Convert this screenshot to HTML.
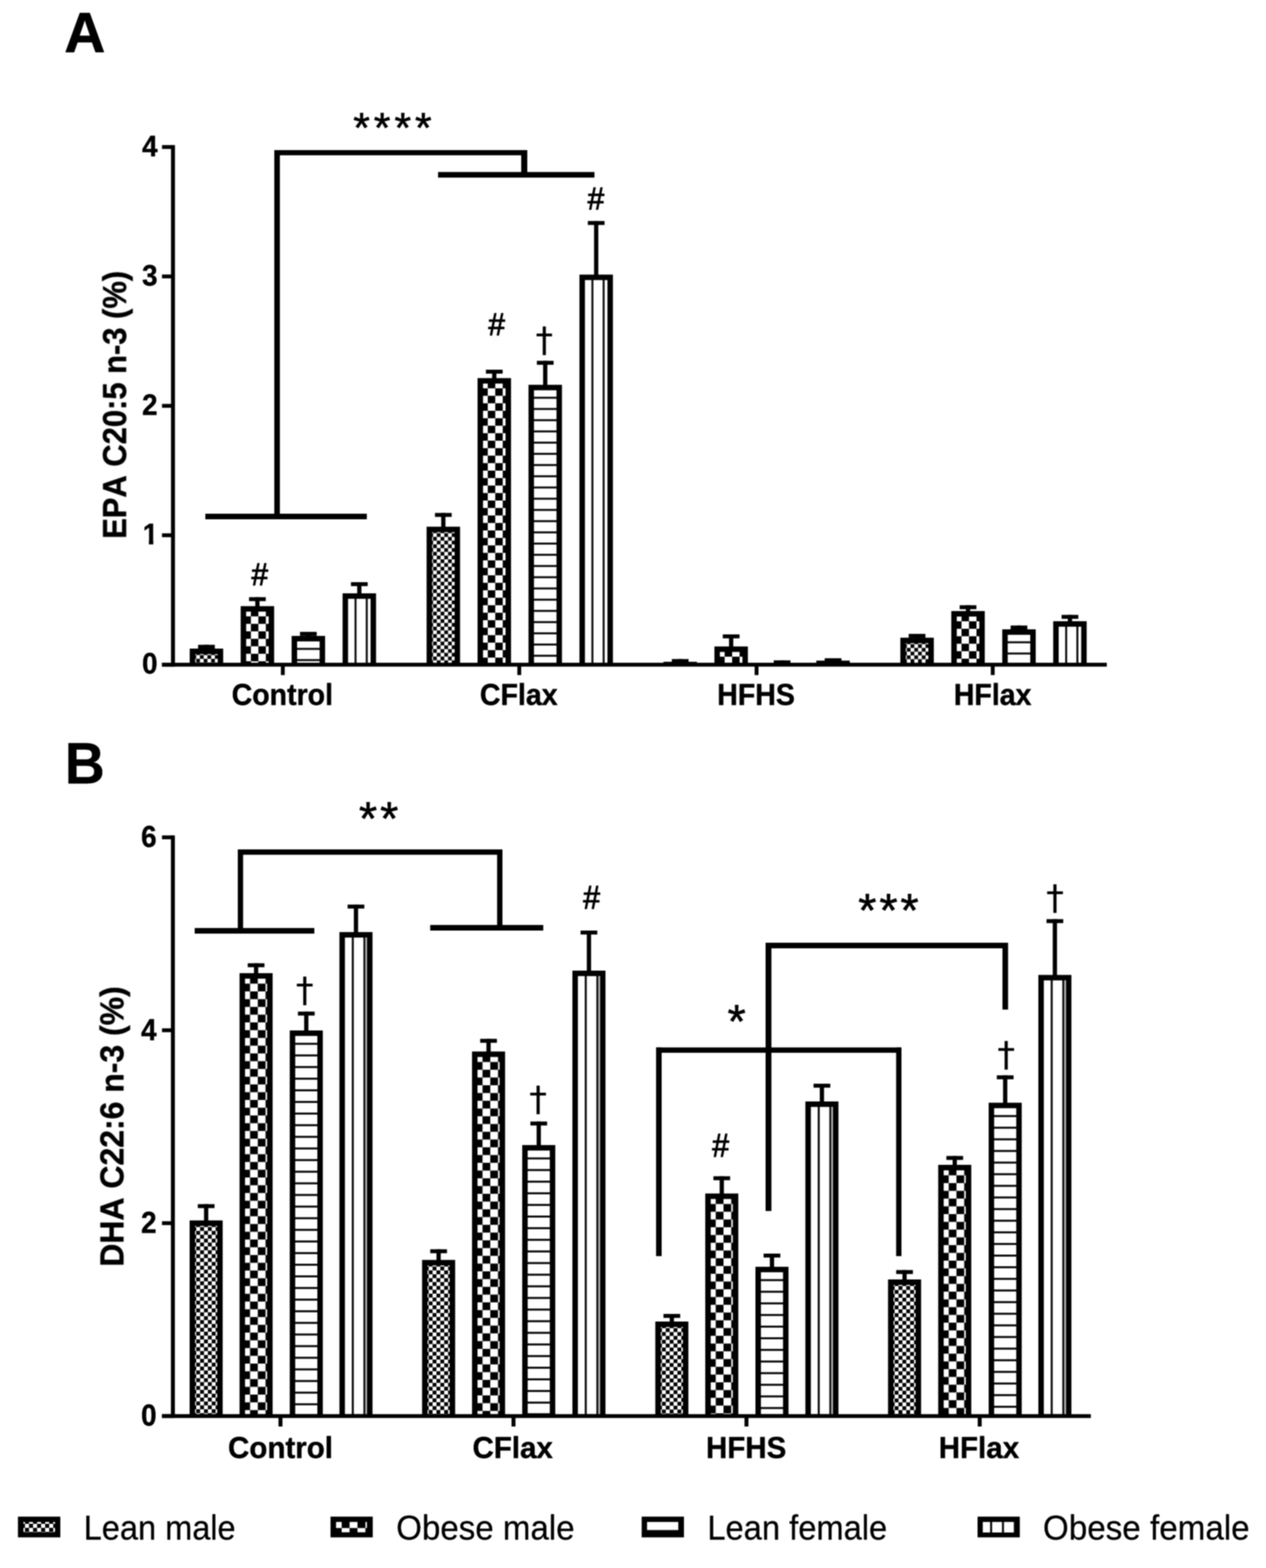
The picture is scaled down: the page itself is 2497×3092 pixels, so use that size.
<!DOCTYPE html>
<html lang="en"><head><meta charset="utf-8"><title>EPA and DHA content by diet, sex and phenotype</title>
<style>html,body{margin:0;padding:0;background:#fff}body{width:2497px;height:3092px;overflow:hidden}svg{display:block}text{fill:#000;font-kerning:none;white-space:pre}.r{font-family:"Liberation Sans",Arial,Helvetica,sans-serif;font-weight:400}.b{font-family:"Liberation Sans",Arial,Helvetica,sans-serif;font-weight:700}.d{font-family:"DejaVu Sans","Liberation Sans",sans-serif;font-weight:400}</style>
</head><body>
<svg width="2497" height="3092" viewBox="0 0 2497 3092" role="img" aria-label="Bar charts of EPA and DHA percentages by diet group">
<rect width="2497" height="3092" fill="#fff"/>
<defs><filter id="soft" x="0" y="0" width="2497" height="3092" filterUnits="userSpaceOnUse" color-interpolation-filters="sRGB"><feGaussianBlur stdDeviation="1.25"/></filter></defs>
<g filter="url(#soft)">
<!-- panel A: bars -->
<rect x="390.7" y="1271.5" width="33" height="7.8"/>
<rect x="403" y="1271.5" width="8.4" height="8.5"/>
<rect x="374.2" y="1279" width="66" height="31.7"/>
<pattern id="p1" patternUnits="userSpaceOnUse" x="379.6" y="1284.4" width="14.75" height="14.75"><rect width="14.75" height="14.75" fill="#fff"/><rect x="7.38" width="7.38" height="7.38"/><rect y="7.38" width="7.38" height="7.38"/></pattern>
<rect x="385" y="1289.8" width="44.4" height="17.1" fill="url(#p1)"/>
<rect x="491.2" y="1177.6" width="33" height="7.8"/>
<rect x="503.5" y="1177.6" width="8.4" height="18.7"/>
<rect x="474.7" y="1195.3" width="66" height="115.4"/>
<pattern id="p2" patternUnits="userSpaceOnUse" x="480.1" y="1200.7" width="29.5" height="29.5"><rect width="29.5" height="29.5" fill="#fff"/><rect x="14.75" width="14.75" height="14.75"/><rect y="14.75" width="14.75" height="14.75"/></pattern>
<rect x="485.5" y="1206.1" width="44.4" height="100.8" fill="url(#p2)"/>
<rect x="591.7" y="1246" width="33" height="7.8"/>
<rect x="604" y="1246" width="8.4" height="9"/>
<rect x="575.2" y="1254" width="66" height="56.7"/>
<pattern id="p3" patternUnits="userSpaceOnUse" x="580.6" y="1259.4" width="22.12" height="22.12"><rect width="22.12" height="22.12" fill="#fff"/><rect y="18.18" width="22.12" height="4.2" fill="#0a0a0a"/></pattern>
<rect x="586" y="1264.8" width="44.4" height="42.1" fill="url(#p3)"/>
<rect x="692.2" y="1148" width="33" height="7.8"/>
<rect x="704.5" y="1148" width="8.4" height="23"/>
<rect x="675.7" y="1170" width="66" height="140.7"/>
<pattern id="p4" patternUnits="userSpaceOnUse" x="681.1" y="1175.4" width="22.12" height="22.12"><rect width="22.12" height="22.12" fill="#fff"/><rect x="18.18" width="4.2" height="22.12" fill="#0a0a0a"/></pattern>
<rect x="686.5" y="1180.8" width="44.4" height="126.1" fill="url(#p4)"/>
<rect x="857.9" y="1011.5" width="33" height="7.8"/>
<rect x="870.2" y="1011.5" width="8.4" height="28.1"/>
<rect x="841.4" y="1038.6" width="66" height="272.1"/>
<pattern id="p5" patternUnits="userSpaceOnUse" x="846.8" y="1044" width="14.75" height="14.75"><rect width="14.75" height="14.75" fill="#fff"/><rect x="7.38" width="7.38" height="7.38"/><rect y="7.38" width="7.38" height="7.38"/></pattern>
<rect x="852.2" y="1049.4" width="44.4" height="257.5" fill="url(#p5)"/>
<rect x="958.4" y="729" width="33" height="7.8"/>
<rect x="970.7" y="729" width="8.4" height="17.6"/>
<rect x="941.9" y="745.6" width="66" height="565.1"/>
<pattern id="p6" patternUnits="userSpaceOnUse" x="947.3" y="751" width="29.5" height="29.5"><rect width="29.5" height="29.5" fill="#fff"/><rect x="14.75" width="14.75" height="14.75"/><rect y="14.75" width="14.75" height="14.75"/></pattern>
<rect x="952.7" y="756.4" width="44.4" height="550.5" fill="url(#p6)"/>
<rect x="1058.9" y="711.5" width="33" height="7.8"/>
<rect x="1071.2" y="711.5" width="8.4" height="48.3"/>
<rect x="1042.4" y="758.8" width="66" height="551.9"/>
<pattern id="p7" patternUnits="userSpaceOnUse" x="1047.8" y="764.2" width="22.12" height="22.12"><rect width="22.12" height="22.12" fill="#fff"/><rect y="18.18" width="22.12" height="4.2" fill="#0a0a0a"/></pattern>
<rect x="1053.2" y="769.6" width="44.4" height="537.3" fill="url(#p7)"/>
<rect x="1159.4" y="435.8" width="33" height="7.8"/>
<rect x="1171.7" y="435.8" width="8.4" height="106.7"/>
<rect x="1142.9" y="541.5" width="66" height="769.2"/>
<pattern id="p8" patternUnits="userSpaceOnUse" x="1148.3" y="546.9" width="22.12" height="22.12"><rect width="22.12" height="22.12" fill="#fff"/><rect x="18.18" width="4.2" height="22.12" fill="#0a0a0a"/></pattern>
<rect x="1153.7" y="552.3" width="44.4" height="754.6" fill="url(#p8)"/>
<rect x="1325.1" y="1299.6" width="33" height="7.8"/>
<rect x="1337.4" y="1299.6" width="8.4" height="6.4"/>
<rect x="1308.6" y="1305" width="66" height="5.7"/>
<rect x="1425.6" y="1251" width="33" height="7.8"/>
<rect x="1437.9" y="1251" width="8.4" height="24.8"/>
<rect x="1409.1" y="1274.8" width="66" height="35.9"/>
<pattern id="p9" patternUnits="userSpaceOnUse" x="1414.5" y="1280.2" width="29.5" height="29.5"><rect width="29.5" height="29.5" fill="#fff"/><rect x="14.75" width="14.75" height="14.75"/><rect y="14.75" width="14.75" height="14.75"/></pattern>
<rect x="1419.9" y="1285.6" width="44.4" height="21.3" fill="url(#p9)"/>
<rect x="1526.1" y="1302.2" width="33" height="7.8"/>
<rect x="1538.4" y="1302.2" width="8.4" height="5.8"/>
<rect x="1509.6" y="1307" width="66" height="3.7"/>
<rect x="1626.6" y="1298" width="33" height="7.8"/>
<rect x="1638.9" y="1298" width="8.4" height="5.7"/>
<rect x="1610.1" y="1302.7" width="66" height="8"/>
<rect x="1792.3" y="1250" width="33" height="7.8"/>
<rect x="1804.6" y="1250" width="8.4" height="8.5"/>
<rect x="1775.8" y="1257.5" width="66" height="53.2"/>
<pattern id="p10" patternUnits="userSpaceOnUse" x="1781.2" y="1262.9" width="14.75" height="14.75"><rect width="14.75" height="14.75" fill="#fff"/><rect x="7.38" width="7.38" height="7.38"/><rect y="7.38" width="7.38" height="7.38"/></pattern>
<rect x="1786.6" y="1268.3" width="44.4" height="38.6" fill="url(#p10)"/>
<rect x="1892.8" y="1193.5" width="33" height="7.8"/>
<rect x="1905.1" y="1193.5" width="8.4" height="12.5"/>
<rect x="1876.3" y="1205" width="66" height="105.7"/>
<pattern id="p11" patternUnits="userSpaceOnUse" x="1881.7" y="1210.4" width="29.5" height="29.5"><rect width="29.5" height="29.5" fill="#fff"/><rect x="14.75" width="14.75" height="14.75"/><rect y="14.75" width="14.75" height="14.75"/></pattern>
<rect x="1887.1" y="1215.8" width="44.4" height="91.1" fill="url(#p11)"/>
<rect x="1993.3" y="1233.5" width="33" height="7.8"/>
<rect x="2005.6" y="1233.5" width="8.4" height="8.5"/>
<rect x="1976.8" y="1241" width="66" height="69.7"/>
<pattern id="p12" patternUnits="userSpaceOnUse" x="1982.2" y="1246.4" width="22.12" height="22.12"><rect width="22.12" height="22.12" fill="#fff"/><rect y="18.18" width="22.12" height="4.2" fill="#0a0a0a"/></pattern>
<rect x="1987.6" y="1251.8" width="44.4" height="55.1" fill="url(#p12)"/>
<rect x="2093.8" y="1212.5" width="33" height="7.8"/>
<rect x="2106.1" y="1212.5" width="8.4" height="13.5"/>
<rect x="2077.3" y="1225" width="66" height="85.7"/>
<pattern id="p13" patternUnits="userSpaceOnUse" x="2082.7" y="1230.4" width="22.12" height="22.12"><rect width="22.12" height="22.12" fill="#fff"/><rect x="18.18" width="4.2" height="22.12" fill="#0a0a0a"/></pattern>
<rect x="2088.1" y="1235.8" width="44.4" height="71.1" fill="url(#p13)"/>
<!-- axes -->
<rect x="337.3" y="286.1" width="7.8" height="1028.4"/>
<rect x="319.5" y="1306.9" width="1863.5" height="7.6"/>
<rect x="319.5" y="286.1" width="21.7" height="7.6"/>
<text transform="translate(280.16 307.5) scale(0.97 1)" class="b" font-size="56.5" stroke="#000" stroke-width="0.8" stroke-linejoin="round">4</text>
<rect x="319.5" y="541.3" width="21.7" height="7.6"/>
<text transform="translate(280.16 562.7) scale(0.97 1)" class="b" font-size="56.5" stroke="#000" stroke-width="0.8" stroke-linejoin="round">3</text>
<rect x="319.5" y="796.5" width="21.7" height="7.6"/>
<text transform="translate(280.16 817.9) scale(0.97 1)" class="b" font-size="56.5" stroke="#000" stroke-width="0.8" stroke-linejoin="round">2</text>
<rect x="319.5" y="1051.7" width="21.7" height="7.6"/>
<clipPath id="oneA"><rect x="0" y="-56.5" width="56.5" height="49.72"/><rect x="12.54" y="-8.47" width="9.04" height="16.95"/></clipPath>
<text transform="translate(281.46 1073.1) scale(0.97 1)" class="b" font-size="56.5" stroke="#000" stroke-width="0.8" stroke-linejoin="round" clip-path="url(#oneA)">1</text>
<rect x="319.5" y="1306.9" width="21.7" height="7.6"/>
<text transform="translate(280.16 1328.3) scale(0.97 1)" class="b" font-size="56.5" stroke="#000" stroke-width="0.8" stroke-linejoin="round">0</text>
<rect x="554" y="1310.7" width="7.6" height="20.5"/>
<text transform="translate(456.88 1389.6) scale(0.962 1)" class="b" font-size="58.5" stroke="#000" stroke-width="0.8" stroke-linejoin="round">Control</text>
<rect x="1020.4" y="1310.7" width="7.6" height="20.5"/>
<text transform="translate(946.6 1389.6) scale(0.962 1)" class="b" font-size="58.5" stroke="#000" stroke-width="0.8" stroke-linejoin="round">CFlax</text>
<rect x="1488.4" y="1310.7" width="7.6" height="20.5"/>
<text transform="translate(1414.57 1389.6) scale(0.962 1)" class="b" font-size="58.5" stroke="#000" stroke-width="0.8" stroke-linejoin="round">HFHS</text>
<rect x="1954.2" y="1310.7" width="7.6" height="20.5"/>
<text transform="translate(1881.17 1389.6) scale(0.962 1)" class="b" font-size="58.5" stroke="#000" stroke-width="0.8" stroke-linejoin="round">HFlax</text>
<text transform="translate(248.5 1062.52) rotate(-90) scale(0.9526 1)" class="b" font-size="64" stroke="#000" stroke-width="0.8" stroke-linejoin="round">EPA C20:5 n-3 (%)</text>
<text transform="translate(126.91 103.3)" class="b" font-size="111.5" stroke="#000" stroke-width="1.4" stroke-linejoin="round">A</text>
<!-- significance brackets -->
<rect x="541" y="296" width="11" height="722"/>
<rect x="541" y="296" width="499" height="10.2"/>
<rect x="1028" y="296" width="12" height="49"/>
<rect x="864" y="339.2" width="308.5" height="11"/>
<rect x="405" y="1013" width="318.5" height="11"/>
<!-- significance symbols -->
<text transform="translate(696.75 280.91)" class="r" font-size="84.3" letter-spacing="7.8" stroke="#000" stroke-width="1.2" stroke-linejoin="round">****</text>
<text transform="translate(496.1 1154.15) scale(0.94 1)" class="r" font-size="62.6" stroke="#000" stroke-width="1.7" stroke-linejoin="round">#</text>
<text transform="translate(963.3 661.25) scale(0.94 1)" class="r" font-size="62.6" stroke="#000" stroke-width="1.7" stroke-linejoin="round">#</text>
<text transform="translate(1159 412.65) scale(0.94 1)" class="r" font-size="62.6" stroke="#000" stroke-width="1.7" stroke-linejoin="round">#</text>
<text transform="translate(1056.51 692.77) scale(1.02 1)" class="d" font-size="67" stroke="#000" stroke-width="0.3" stroke-linejoin="round">†</text>
<!-- panel B: bars -->
<rect x="390.1" y="2374.5" width="33" height="7.8"/>
<rect x="402.4" y="2374.5" width="8.4" height="33.1"/>
<rect x="374" y="2406.6" width="65.2" height="385.8"/>
<pattern id="p14" patternUnits="userSpaceOnUse" x="379.4" y="2412" width="15.29" height="15.29"><rect width="15.29" height="15.29" fill="#fff"/><rect x="7.64" width="7.64" height="7.64"/><rect y="7.64" width="7.64" height="7.64"/></pattern>
<rect x="384.8" y="2417.4" width="43.6" height="371.2" fill="url(#p14)"/>
<rect x="488.6" y="1899.5" width="33" height="7.8"/>
<rect x="500.9" y="1899.5" width="8.4" height="20.5"/>
<rect x="472.5" y="1919" width="65.2" height="873.4"/>
<pattern id="p15" patternUnits="userSpaceOnUse" x="477.9" y="1924.4" width="30.58" height="30.58"><rect width="30.58" height="30.58" fill="#fff"/><rect x="15.29" width="15.29" height="15.29"/><rect y="15.29" width="15.29" height="15.29"/></pattern>
<rect x="483.3" y="1929.8" width="43.6" height="858.8" fill="url(#p15)"/>
<rect x="587.6" y="1994.8" width="33" height="7.8"/>
<rect x="599.9" y="1994.8" width="8.4" height="38.2"/>
<rect x="571.5" y="2032" width="65.2" height="760.4"/>
<pattern id="p16" patternUnits="userSpaceOnUse" x="576.9" y="2037.4" width="22.93" height="22.93"><rect width="22.93" height="22.93" fill="#fff"/><rect y="18.92" width="22.93" height="4.2" fill="#0a0a0a"/></pattern>
<rect x="582.3" y="2042.8" width="43.6" height="745.8" fill="url(#p16)"/>
<rect x="685.6" y="1783.8" width="33" height="7.8"/>
<rect x="697.9" y="1783.8" width="8.4" height="55.2"/>
<rect x="669.5" y="1838" width="65.2" height="954.4"/>
<pattern id="p17" patternUnits="userSpaceOnUse" x="674.9" y="1843.4" width="22.93" height="22.93"><rect width="22.93" height="22.93" fill="#fff"/><rect x="18.92" width="4.2" height="22.93" fill="#0a0a0a"/></pattern>
<rect x="680.3" y="1848.8" width="43.6" height="939.8" fill="url(#p17)"/>
<rect x="720.65" y="1848.8" width="3.25" height="939.8" fill="#b4b4b4"/>
<rect x="848.6" y="2463.5" width="33" height="7.8"/>
<rect x="860.9" y="2463.5" width="8.4" height="22"/>
<rect x="832.5" y="2484.5" width="65.2" height="307.9"/>
<pattern id="p18" patternUnits="userSpaceOnUse" x="837.9" y="2489.9" width="15.29" height="15.29"><rect width="15.29" height="15.29" fill="#fff"/><rect x="7.64" width="7.64" height="7.64"/><rect y="7.64" width="7.64" height="7.64"/></pattern>
<rect x="843.3" y="2495.3" width="43.6" height="293.3" fill="url(#p18)"/>
<rect x="947.1" y="2048.5" width="33" height="7.8"/>
<rect x="959.4" y="2048.5" width="8.4" height="26"/>
<rect x="931" y="2073.5" width="65.2" height="718.9"/>
<pattern id="p19" patternUnits="userSpaceOnUse" x="936.4" y="2078.9" width="30.58" height="30.58"><rect width="30.58" height="30.58" fill="#fff"/><rect x="15.29" width="15.29" height="15.29"/><rect y="15.29" width="15.29" height="15.29"/></pattern>
<rect x="941.8" y="2084.3" width="43.6" height="704.3" fill="url(#p19)"/>
<rect x="1046.1" y="2211.6" width="33" height="7.8"/>
<rect x="1058.4" y="2211.6" width="8.4" height="47.4"/>
<rect x="1030" y="2258" width="65.2" height="534.4"/>
<pattern id="p20" patternUnits="userSpaceOnUse" x="1035.4" y="2263.4" width="22.93" height="22.93"><rect width="22.93" height="22.93" fill="#fff"/><rect y="18.92" width="22.93" height="4.2" fill="#0a0a0a"/></pattern>
<rect x="1040.8" y="2268.8" width="43.6" height="519.8" fill="url(#p20)"/>
<rect x="1145.1" y="1835" width="33" height="7.8"/>
<rect x="1157.4" y="1835" width="8.4" height="80"/>
<rect x="1129" y="1914" width="65.2" height="878.4"/>
<pattern id="p21" patternUnits="userSpaceOnUse" x="1134.4" y="1919.4" width="22.93" height="22.93"><rect width="22.93" height="22.93" fill="#fff"/><rect x="18.92" width="4.2" height="22.93" fill="#0a0a0a"/></pattern>
<rect x="1139.8" y="1924.8" width="43.6" height="863.8" fill="url(#p21)"/>
<rect x="1180.15" y="1924.8" width="3.25" height="863.8" fill="#b4b4b4"/>
<rect x="1308.6" y="2591" width="33" height="7.8"/>
<rect x="1320.9" y="2591" width="8.4" height="16"/>
<rect x="1292.5" y="2606" width="65.2" height="186.4"/>
<pattern id="p22" patternUnits="userSpaceOnUse" x="1297.9" y="2611.4" width="15.29" height="15.29"><rect width="15.29" height="15.29" fill="#fff"/><rect x="7.64" width="7.64" height="7.64"/><rect y="7.64" width="7.64" height="7.64"/></pattern>
<rect x="1303.3" y="2616.8" width="43.6" height="171.8" fill="url(#p22)"/>
<rect x="1407.1" y="2319.5" width="33" height="7.8"/>
<rect x="1419.4" y="2319.5" width="8.4" height="35"/>
<rect x="1391" y="2353.5" width="65.2" height="438.9"/>
<pattern id="p23" patternUnits="userSpaceOnUse" x="1396.4" y="2358.9" width="30.58" height="30.58"><rect width="30.58" height="30.58" fill="#fff"/><rect x="15.29" width="15.29" height="15.29"/><rect y="15.29" width="15.29" height="15.29"/></pattern>
<rect x="1401.8" y="2364.3" width="43.6" height="424.3" fill="url(#p23)"/>
<rect x="1506.1" y="2472" width="33" height="7.8"/>
<rect x="1518.4" y="2472" width="8.4" height="27"/>
<rect x="1490" y="2498" width="65.2" height="294.4"/>
<pattern id="p24" patternUnits="userSpaceOnUse" x="1495.4" y="2503.4" width="22.93" height="22.93"><rect width="22.93" height="22.93" fill="#fff"/><rect y="18.92" width="22.93" height="4.2" fill="#0a0a0a"/></pattern>
<rect x="1500.8" y="2508.8" width="43.6" height="279.8" fill="url(#p24)"/>
<rect x="1604.6" y="2137" width="33" height="7.8"/>
<rect x="1616.9" y="2137" width="8.4" height="36"/>
<rect x="1588.5" y="2172" width="65.2" height="620.4"/>
<pattern id="p25" patternUnits="userSpaceOnUse" x="1593.9" y="2177.4" width="22.93" height="22.93"><rect width="22.93" height="22.93" fill="#fff"/><rect x="18.92" width="4.2" height="22.93" fill="#0a0a0a"/></pattern>
<rect x="1599.3" y="2182.8" width="43.6" height="605.8" fill="url(#p25)"/>
<rect x="1639.65" y="2182.8" width="3.25" height="605.8" fill="#b4b4b4"/>
<rect x="1767.6" y="2504.5" width="33" height="7.8"/>
<rect x="1779.9" y="2504.5" width="8.4" height="19.5"/>
<rect x="1751.5" y="2523" width="65.2" height="269.4"/>
<pattern id="p26" patternUnits="userSpaceOnUse" x="1756.9" y="2528.4" width="15.29" height="15.29"><rect width="15.29" height="15.29" fill="#fff"/><rect x="7.64" width="7.64" height="7.64"/><rect y="7.64" width="7.64" height="7.64"/></pattern>
<rect x="1762.3" y="2533.8" width="43.6" height="254.8" fill="url(#p26)"/>
<rect x="1866.6" y="2279.5" width="33" height="7.8"/>
<rect x="1878.9" y="2279.5" width="8.4" height="18.5"/>
<rect x="1850.5" y="2297" width="65.2" height="495.4"/>
<pattern id="p27" patternUnits="userSpaceOnUse" x="1855.9" y="2302.4" width="30.58" height="30.58"><rect width="30.58" height="30.58" fill="#fff"/><rect x="15.29" width="15.29" height="15.29"/><rect y="15.29" width="15.29" height="15.29"/></pattern>
<rect x="1861.3" y="2307.8" width="43.6" height="480.8" fill="url(#p27)"/>
<rect x="1966.1" y="2120.5" width="33" height="7.8"/>
<rect x="1978.4" y="2120.5" width="8.4" height="55"/>
<rect x="1950" y="2174.5" width="65.2" height="617.9"/>
<pattern id="p28" patternUnits="userSpaceOnUse" x="1955.4" y="2179.9" width="22.93" height="22.93"><rect width="22.93" height="22.93" fill="#fff"/><rect y="18.92" width="22.93" height="4.2" fill="#0a0a0a"/></pattern>
<rect x="1960.8" y="2185.3" width="43.6" height="603.3" fill="url(#p28)"/>
<rect x="2064.1" y="1812.5" width="33" height="7.8"/>
<rect x="2076.4" y="1812.5" width="8.4" height="111"/>
<rect x="2048" y="1922.5" width="65.2" height="869.9"/>
<pattern id="p29" patternUnits="userSpaceOnUse" x="2053.4" y="1927.9" width="22.93" height="22.93"><rect width="22.93" height="22.93" fill="#fff"/><rect x="18.92" width="4.2" height="22.93" fill="#0a0a0a"/></pattern>
<rect x="2058.8" y="1933.3" width="43.6" height="855.3" fill="url(#p29)"/>
<rect x="2099.15" y="1933.3" width="3.25" height="855.3" fill="#b4b4b4"/>
<!-- axes -->
<rect x="337.1" y="1647.4" width="7.8" height="1148.8"/>
<rect x="319.5" y="2788.6" width="1832" height="7.6"/>
<rect x="319.5" y="1647.4" width="21.5" height="7.6"/>
<text transform="translate(278.16 1670.2) scale(0.94 1)" class="b" font-size="58.5" stroke="#000" stroke-width="0.8" stroke-linejoin="round">6</text>
<rect x="319.5" y="2027.8" width="21.5" height="7.6"/>
<text transform="translate(278.16 2050.6) scale(0.94 1)" class="b" font-size="58.5" stroke="#000" stroke-width="0.8" stroke-linejoin="round">4</text>
<rect x="319.5" y="2408.2" width="21.5" height="7.6"/>
<text transform="translate(278.16 2431) scale(0.94 1)" class="b" font-size="58.5" stroke="#000" stroke-width="0.8" stroke-linejoin="round">2</text>
<rect x="319.5" y="2788.6" width="21.5" height="7.6"/>
<text transform="translate(278.16 2811.4) scale(0.94 1)" class="b" font-size="58.5" stroke="#000" stroke-width="0.8" stroke-linejoin="round">0</text>
<rect x="549.3" y="2792.4" width="7.8" height="20.6"/>
<text transform="translate(449.85 2874.9) scale(0.97 1)" class="b" font-size="60" stroke="#000" stroke-width="0.8" stroke-linejoin="round">Control</text>
<rect x="1008.9" y="2792.4" width="7.8" height="20.6"/>
<text transform="translate(931.9 2874.9) scale(0.97 1)" class="b" font-size="60" stroke="#000" stroke-width="0.8" stroke-linejoin="round">CFlax</text>
<rect x="1468.4" y="2792.4" width="7.8" height="20.6"/>
<text transform="translate(1392.47 2874.9) scale(0.97 1)" class="b" font-size="60" stroke="#000" stroke-width="0.8" stroke-linejoin="round">HFHS</text>
<rect x="1928.4" y="2792.4" width="7.8" height="20.6"/>
<text transform="translate(1851.55 2874.9) scale(0.97 1)" class="b" font-size="60" stroke="#000" stroke-width="0.8" stroke-linejoin="round">HFlax</text>
<text transform="translate(243.3 2497.86) rotate(-90) scale(0.959 1)" class="b" font-size="65.7" stroke="#000" stroke-width="0.8" stroke-linejoin="round">DHA C22:6 n-3 (%)</text>
<text transform="translate(127.82 1544.7) scale(0.955 1)" class="b" font-size="114.5" stroke="#000" stroke-width="0.6" stroke-linejoin="round">B</text>
<!-- significance brackets -->
<rect x="469" y="1675" width="522" height="10.5"/>
<rect x="469" y="1675" width="10.5" height="160"/>
<rect x="980.5" y="1675" width="10.5" height="154"/>
<rect x="384" y="1830" width="236" height="11"/>
<rect x="848.5" y="1824" width="223" height="11"/>
<rect x="1294" y="2065.5" width="484" height="10.5"/>
<rect x="1294" y="2065.5" width="11" height="411.5"/>
<rect x="1767.5" y="2065.5" width="10.5" height="411.5"/>
<rect x="1510" y="1859" width="478" height="11"/>
<rect x="1510" y="1859" width="11.5" height="529"/>
<rect x="1977.2" y="1859" width="11.1" height="131.8"/>
<!-- significance symbols -->
<text transform="translate(708.02 1645.5)" class="r" font-size="92" letter-spacing="5.9" stroke="#000" stroke-width="1.2" stroke-linejoin="round">**</text>
<text transform="translate(1692.68 1827.4)" class="r" font-size="92" letter-spacing="5.9" stroke="#000" stroke-width="1.2" stroke-linejoin="round">***</text>
<text transform="translate(1435.11 2046.1)" class="r" font-size="92" letter-spacing="5.9" stroke="#000" stroke-width="1.2" stroke-linejoin="round">*</text>
<text transform="translate(1150.13 1792.15) scale(0.92 1)" class="r" font-size="65" stroke="#000" stroke-width="1.7" stroke-linejoin="round">#</text>
<text transform="translate(1404.63 2281.45) scale(0.92 1)" class="r" font-size="65" stroke="#000" stroke-width="1.7" stroke-linejoin="round">#</text>
<text transform="translate(583.66 1975.47) scale(1.02 1)" class="d" font-size="68" stroke="#000" stroke-width="0.3" stroke-linejoin="round">†</text>
<text transform="translate(1043.96 2189.97) scale(1.02 1)" class="d" font-size="68" stroke="#000" stroke-width="0.3" stroke-linejoin="round">†</text>
<text transform="translate(1967.16 2102.47) scale(1.02 1)" class="d" font-size="68" stroke="#000" stroke-width="0.3" stroke-linejoin="round">†</text>
<text transform="translate(2063.46 1792.97) scale(1.02 1)" class="d" font-size="68" stroke="#000" stroke-width="0.3" stroke-linejoin="round">†</text>
<!-- legend -->
<rect x="35.4" y="2990.7" width="83.6" height="40.9"/>
<pattern id="p30" patternUnits="userSpaceOnUse" x="49.3" y="3004.9" width="15.9" height="15.9"><rect width="15.9" height="15.9" fill="#fff"/><rect x="7.95" width="7.95" height="7.95"/><rect y="7.95" width="7.95" height="7.95"/></pattern>
<rect x="46.2" y="3001.2" width="62.3" height="20.4" fill="url(#p30)"/>
<text transform="translate(165.1 3036.2) scale(0.933 1)" class="r" font-size="68.8" stroke="#000" stroke-width="0.5" stroke-linejoin="round">Lean male</text>
<rect x="651.9" y="2990.7" width="83.3" height="40.9"/>
<pattern id="p31" patternUnits="userSpaceOnUse" x="658.3" y="2997.6" width="31.2" height="31.2"><rect width="31.2" height="31.2" fill="#fff"/><rect x="15.6" width="15.6" height="15.6"/><rect y="15.6" width="15.6" height="15.6"/></pattern>
<rect x="662.8" y="3001.2" width="60.9" height="20.4" fill="url(#p31)"/>
<text transform="translate(781.4 3036.2) scale(0.949 1)" class="r" font-size="68.8" stroke="#000" stroke-width="0.5" stroke-linejoin="round">Obese male</text>
<rect x="1265.6" y="2990.7" width="83.4" height="40.9"/>
<pattern id="p32" patternUnits="userSpaceOnUse" x="1270" y="2997.95" width="23.4" height="23.4"><rect width="23.4" height="23.4" fill="#fff"/><rect y="19.35" width="23.4" height="4.2" fill="#0a0a0a"/></pattern>
<rect x="1276.2" y="3001.2" width="61.6" height="16.4" fill="url(#p32)"/>
<text transform="translate(1395.18 3036.2) scale(0.937 1)" class="r" font-size="68.8" stroke="#000" stroke-width="0.5" stroke-linejoin="round">Lean female</text>
<rect x="1928.1" y="2990.7" width="83.3" height="40.9"/>
<pattern id="p33" patternUnits="userSpaceOnUse" x="1933.45" y="2995" width="23.4" height="23.4"><rect width="23.4" height="23.4" fill="#fff"/><rect x="19.35" width="4.2" height="23.4" fill="#0a0a0a"/></pattern>
<rect x="1938.4" y="3001.2" width="62.8" height="20.8" fill="url(#p33)"/>
<text transform="translate(2057.09 3036.2) scale(0.952 1)" class="r" font-size="68.8" stroke="#000" stroke-width="0.5" stroke-linejoin="round">Obese female</text>
</g></svg>
</body></html>
